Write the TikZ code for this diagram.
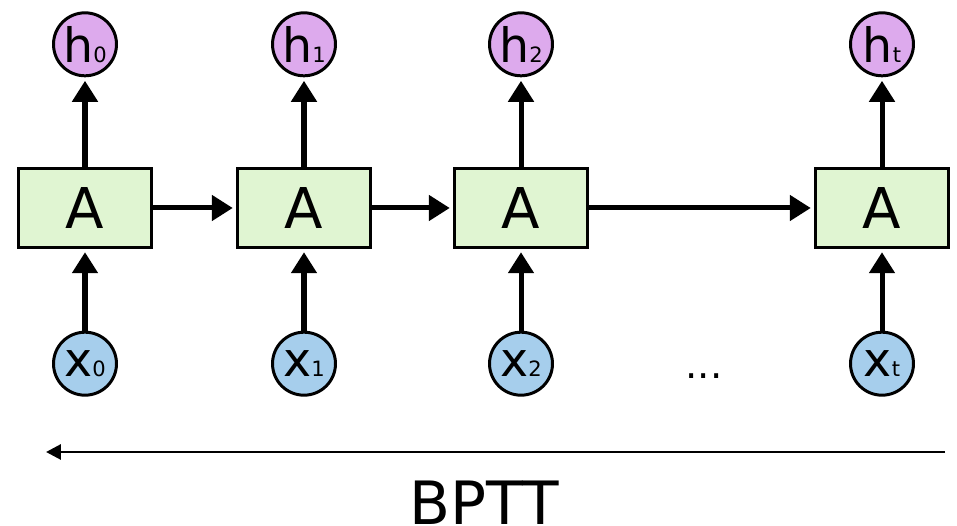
\documentclass[tikz,border=0pt]{standalone}
\usepackage{fontspec}
\setmainfont{DejaVu Sans}
\usepackage{tikz}
\usetikzlibrary{positioning}
\usetikzlibrary{arrows.meta}

\definecolor{cellgreen}{RGB}{224,245,210}
\definecolor{outpurple}{RGB}{221,170,237}
\definecolor{inblue}{RGB}{166,206,236}

% small index next to h and x
\newcommand{\stepidx}[1]{{\fontsize{12}{12}\selectfont #1}}

\begin{document}
\begin{tikzpicture}[x=0.02cm,y=-0.02cm,
    ->,>={Triangle[length=0.42cm,width=0.5cm]},shorten >=2pt,
    line width=2.85pt,
    cell/.style={rectangle,draw,fill=cellgreen,line width=1.4pt,
      minimum width=2.66cm,minimum height=1.58cm,inner sep=0pt,
      font=\fontsize{32}{32}\selectfont},
    hout/.style={circle,draw,fill=outpurple,line width=1.7pt,
      minimum size=1.26cm,inner sep=0pt,font=\fontsize{27}{27}\selectfont},
    xin/.style={circle,draw,fill=inblue,line width=1.7pt,
      minimum size=1.26cm,inner sep=0pt,font=\fontsize{27}{27}\selectfont}]

  \useasboundingbox (0,0) rectangle (957,526);

  % the unrolled cells
  \node[cell] (a0) at (85,208) {A};
  \node[cell] (a1) at (304,208) {A};
  \node[cell] (a2) at (521,208) {A};
  \node[cell] (at) at (882,208) {A};

  % outputs
  \node[hout] (h0) [above=1.8cm of a0] {h\stepidx{0}};
  \node[hout] (h1) [above=1.8cm of a1] {h\stepidx{1}};
  \node[hout] (h2) [above=1.8cm of a2] {h\stepidx{2}};
  \node[hout] (ht) [above=1.8cm of at] {h\stepidx{t}};

  % inputs
  \node[xin] (x0) [below=1.64cm of a0] {x\stepidx{0}};
  \node[xin] (x1) [below=1.64cm of a1] {x\stepidx{1}};
  \node[xin] (x2) [below=1.64cm of a2] {x\stepidx{2}};
  \node[xin] (xt) [below=1.64cm of at] {x\stepidx{t}};

  \node (dots) at (704,376) {\fontsize{22}{22}\selectfont ...};

  \path
    (x0) edge (a0)
    (a0) edge (h0)
         edge (a1)
    (x1) edge (a1)
    (a1) edge (h1)
         edge (a2)
    (x2) edge (a2)
    (a2) edge (h2)
         edge (at)
    (xt) edge (at)
    (at) edge (ht);

  % backpropagation through time
  \coordinate (bpfrom) at (945,452);
  \coordinate (bpto) at (46,452);
  \draw[line width=1.7pt,>={Triangle[length=0.3cm,width=0.3cm]},shorten >=0pt]
    (bpfrom) -- (bpto);
  \node[anchor=base,inner sep=0pt] (bptt) at (484,525)
    {\fontsize{34}{34}\selectfont BPTT};
\end{tikzpicture}
\end{document}
